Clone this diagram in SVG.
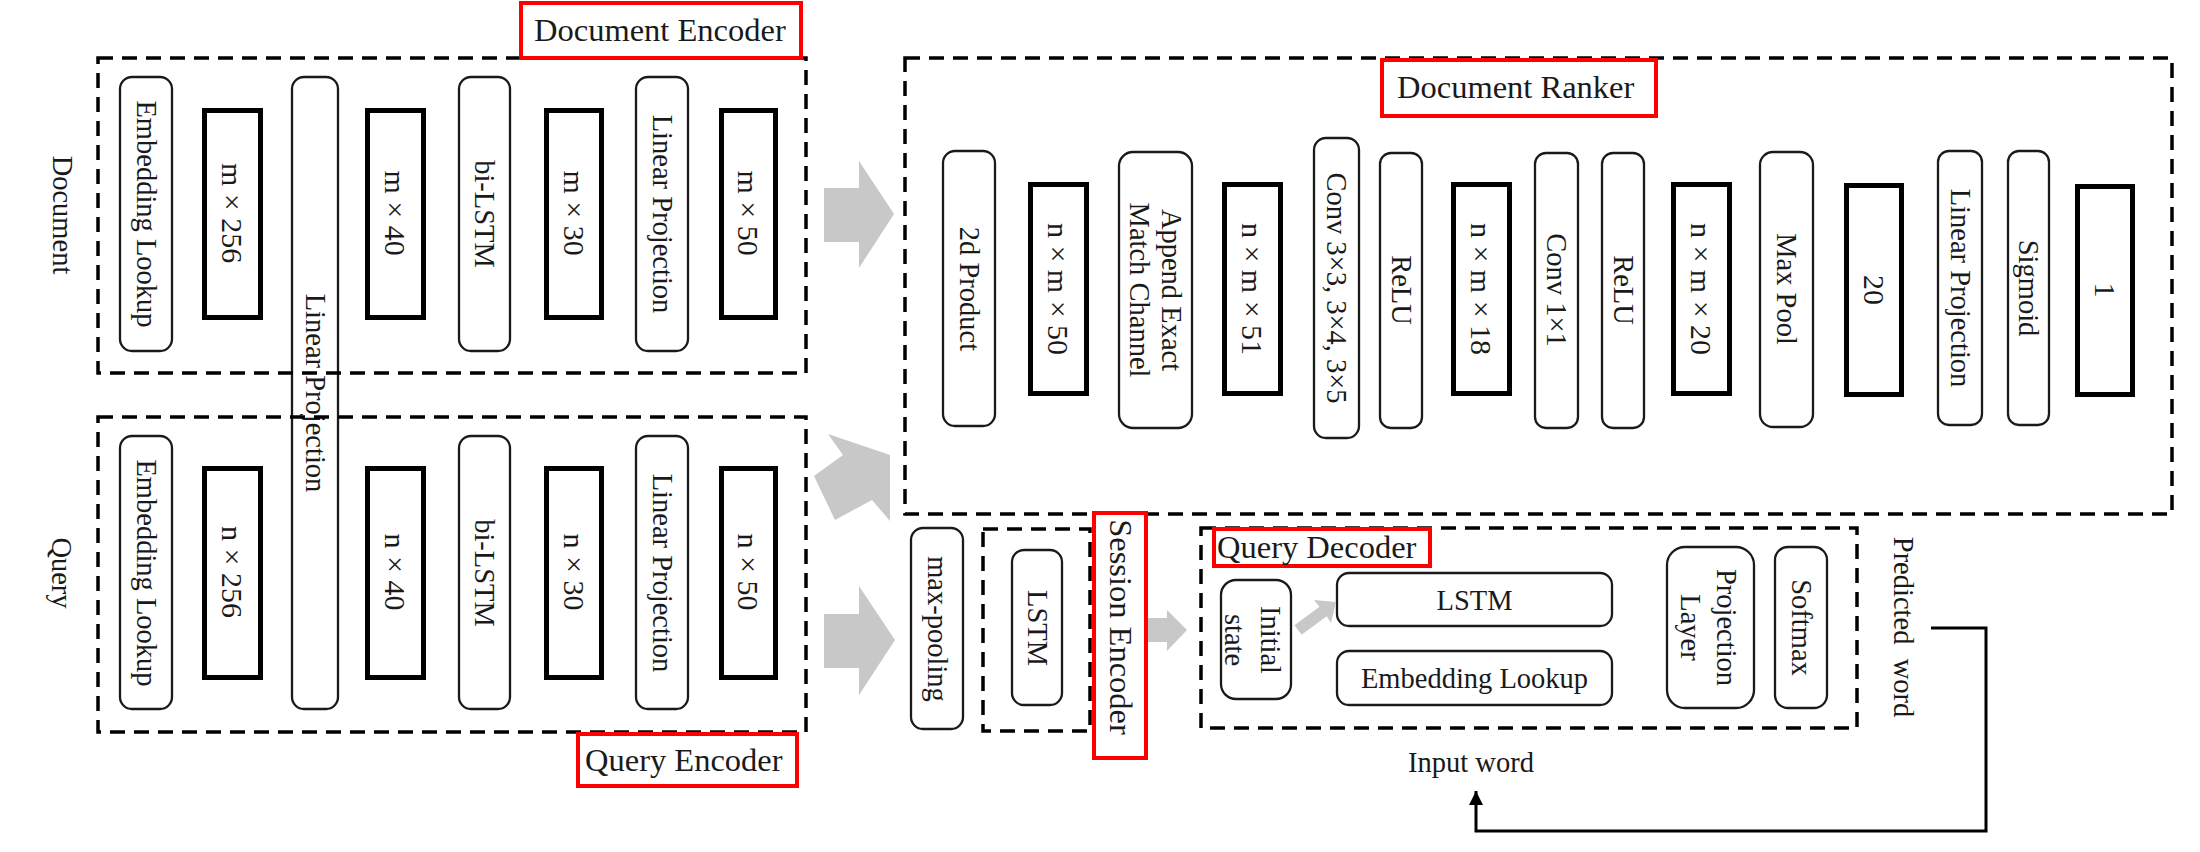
<svg xmlns="http://www.w3.org/2000/svg" width="2200" height="852" viewBox="0 0 2200 852">
<defs>
<style>
text{font-family:"Liberation Serif","Times New Roman",serif;fill:#1a1a1a;}
.t{font-size:28.5px;}
.v{font-size:28.5px;text-anchor:middle;dominant-baseline:central;}
.d{font-size:30px;text-anchor:middle;dominant-baseline:central;}
.lbl{font-size:32.5px;}
.rb{fill:#fff;stroke:#1a1a1a;stroke-width:2.3;}
.tb{fill:#fff;stroke:#000;stroke-width:5;}
.dash{fill:none;stroke:#000;stroke-width:3.5;stroke-dasharray:15 9;}
.red{fill:#fff;stroke:#ff0000;stroke-width:4;}
.garrow{fill:#c8c8c8;stroke:none;}
.line{fill:none;stroke:#000;stroke-width:3;}
</style>
<marker id="ah" markerUnits="userSpaceOnUse" markerWidth="15" markerHeight="15" refX="14" refY="7" orient="auto">
<path d="M0,0 L14,7 L0,14 z" fill="#000"/>
</marker>
</defs>
<rect width="2200" height="852" fill="#fff"/>

<!-- side labels -->
<g id="label-document"><text class="v" transform="translate(62,215) rotate(90)">Document</text></g>
<g id="label-query"><text class="v" transform="translate(61,573) rotate(90)">Query</text></g>

<!-- Document encoder nodes -->
<g id="de-embedding"><rect class="rb" x="120" y="77" width="52" height="274" rx="12"/><text class="v" transform="translate(146,214) rotate(90)">Embedding Lookup</text></g>
<g id="de-m256"><rect class="tb" x="204.5" y="110.5" width="56" height="207"/><text class="d" transform="translate(232.5,213) rotate(90)">m × 256</text></g>
<g id="shared-linear-projection"><rect class="rb" x="292" y="77" width="46" height="632" rx="12"/><text class="v" transform="translate(315,393) rotate(90)">Linear Projection</text></g>
<g id="de-m40"><rect class="tb" x="367.5" y="110.5" width="56" height="207"/><text class="d" transform="translate(395.5,213) rotate(90)">m × 40</text></g>
<g id="de-bilstm"><rect class="rb" x="459" y="77" width="51" height="274" rx="12"/><text class="v" transform="translate(484.5,214) rotate(90)">bi-LSTM</text></g>
<g id="de-m30"><rect class="tb" x="546.5" y="110.5" width="55" height="207"/><text class="d" transform="translate(574,213) rotate(90)">m × 30</text></g>
<g id="de-linproj"><rect class="rb" x="636" y="77" width="52" height="274" rx="12"/><text class="v" transform="translate(662,214) rotate(90)">Linear Projection</text></g>
<g id="de-m50"><rect class="tb" x="721.5" y="110.5" width="54" height="207"/><text class="d" transform="translate(748.5,213) rotate(90)">m × 50</text></g>

<!-- Query encoder nodes -->
<g id="qe-embedding"><rect class="rb" x="120" y="436" width="52" height="273" rx="12"/><text class="v" transform="translate(146,573) rotate(90)">Embedding Lookup</text></g>
<g id="qe-n256"><rect class="tb" x="204.5" y="468.5" width="56" height="209"/><text class="d" transform="translate(232.5,572) rotate(90)">n × 256</text></g>
<g id="qe-n40"><rect class="tb" x="367.5" y="468.5" width="56" height="209"/><text class="d" transform="translate(395.5,572) rotate(90)">n × 40</text></g>
<g id="qe-bilstm"><rect class="rb" x="459" y="436" width="51" height="273" rx="12"/><text class="v" transform="translate(484.5,573) rotate(90)">bi-LSTM</text></g>
<g id="qe-n30"><rect class="tb" x="546.5" y="468.5" width="55" height="209"/><text class="d" transform="translate(574,572) rotate(90)">n × 30</text></g>
<g id="qe-linproj"><rect class="rb" x="636" y="436" width="52" height="273" rx="12"/><text class="v" transform="translate(662,573) rotate(90)">Linear Projection</text></g>
<g id="qe-n50"><rect class="tb" x="721.5" y="468.5" width="54" height="209"/><text class="d" transform="translate(748.5,572) rotate(90)">n × 50</text></g>

<!-- Document ranker nodes -->
<g id="dr-2dproduct"><rect class="rb" x="943" y="151" width="52" height="275" rx="12"/><text class="v" transform="translate(969,289) rotate(90)">2d Product</text></g>
<g id="dr-nm50"><rect class="tb" x="1030.5" y="184.5" width="56" height="209"/><text class="d" transform="translate(1058.5,289) rotate(90)">n × m × 50</text></g>
<g id="dr-append"><rect class="rb" x="1119" y="152" width="73" height="276" rx="14"/><text class="v" transform="translate(1155.5,290) rotate(90)"><tspan x="0" y="-16">Append Exact</tspan><tspan x="0" y="16">Match Channel</tspan></text></g>
<g id="dr-nm51"><rect class="tb" x="1224.5" y="184.5" width="56" height="209"/><text class="d" transform="translate(1252.5,289) rotate(90)">n × m × 51</text></g>
<g id="dr-conv3"><rect class="rb" x="1314" y="138" width="45" height="300" rx="12"/><text class="v" transform="translate(1336.5,288) rotate(90)">Conv 3×3, 3×4, 3×5</text></g>
<g id="dr-relu1"><rect class="rb" x="1380" y="153" width="42" height="275" rx="11"/><text class="v" transform="translate(1401,290) rotate(90)">ReLU</text></g>
<g id="dr-nm18"><rect class="tb" x="1453.5" y="184.5" width="56" height="209"/><text class="d" transform="translate(1481.5,289) rotate(90)">n × m × 18</text></g>
<g id="dr-conv1"><rect class="rb" x="1535" y="153" width="43" height="275" rx="11"/><text class="v" transform="translate(1556.5,290) rotate(90)">Conv 1×1</text></g>
<g id="dr-relu2"><rect class="rb" x="1602" y="153" width="42" height="275" rx="11"/><text class="v" transform="translate(1623,290) rotate(90)">ReLU</text></g>
<g id="dr-nm20"><rect class="tb" x="1673.5" y="184.5" width="56" height="209"/><text class="d" transform="translate(1701.5,289) rotate(90)">n × m × 20</text></g>
<g id="dr-maxpool"><rect class="rb" x="1760" y="152" width="53" height="275" rx="13"/><text class="v" transform="translate(1786.5,289) rotate(90)">Max Pool</text></g>
<g id="dr-20"><rect class="tb" x="1846.5" y="185.5" width="55" height="209"/><text class="d" transform="translate(1874,290) rotate(90)">20</text></g>
<g id="dr-linproj"><rect class="rb" x="1938" y="151" width="44" height="274" rx="11"/><text class="v" transform="translate(1960,288) rotate(90)">Linear Projection</text></g>
<g id="dr-sigmoid"><rect class="rb" x="2008" y="151" width="41" height="274" rx="11"/><text class="v" transform="translate(2028.5,288) rotate(90)">Sigmoid</text></g>
<g id="dr-1"><rect class="tb" x="2077.5" y="186.5" width="55" height="208"/><text class="d" transform="translate(2105,290) rotate(90)">1</text></g>

<!-- Bottom row nodes -->
<g id="max-pooling"><rect class="rb" x="911" y="528" width="52" height="201" rx="12"/><text class="v" transform="translate(937,629) rotate(90)">max-pooling</text></g>
<g id="se-lstm"><rect class="rb" x="1012" y="550" width="50" height="155" rx="12"/><text class="v" transform="translate(1037,628) rotate(90)">LSTM</text></g>
<g id="qd-initial"><rect class="rb" x="1221" y="580" width="70" height="119" rx="15"/><text class="v" transform="translate(1253,640) rotate(90)"><tspan x="0" y="-18">Initial</tspan><tspan x="0" y="18">state</tspan></text></g>
<g id="qd-lstm"><rect class="rb" x="1337" y="573" width="275" height="53" rx="12"/><text class="t" x="1474.5" y="600" text-anchor="middle" dominant-baseline="central">LSTM</text></g>
<g id="qd-embedding"><rect class="rb" x="1337" y="651" width="275" height="54" rx="12"/><text class="t" x="1474.5" y="678" text-anchor="middle" dominant-baseline="central">Embedding Lookup</text></g>
<g id="qd-projection"><rect class="rb" x="1667" y="547" width="87" height="161" rx="18"/><text class="v" transform="translate(1709,627.5) rotate(90)"><tspan x="0" y="-18">Projection</tspan><tspan x="0" y="18">Layer</tspan></text></g>
<g id="qd-softmax"><rect class="rb" x="1775" y="547" width="52" height="161" rx="13"/><text class="v" transform="translate(1801,627.5) rotate(90)">Softmax</text></g>
<g id="predicted-word"><text class="v" transform="translate(1903,627) rotate(90)" xml:space="preserve">Predicted  word</text></g>
<g id="input-word"><text class="t" x="1471" y="772" text-anchor="middle">Input word</text></g>

<!-- Group frames -->
<g id="document-encoder">
<rect class="dash" x="98" y="58" width="708" height="315"/>
<rect class="red" x="521" y="3" width="280" height="55"/>
<text class="lbl" x="534" y="41">Document Encoder</text>
</g>
<g id="query-encoder">
<rect class="dash" x="98" y="417" width="708" height="315"/>
<rect class="red" x="578" y="734" width="219" height="52"/>
<text class="lbl" x="585" y="771">Query Encoder</text>
</g>
<g id="document-ranker">
<rect class="dash" x="905" y="58" width="1267" height="456"/>
<rect class="red" x="1382" y="60" width="274" height="56"/>
<text class="lbl" x="1397" y="98">Document Ranker</text>
</g>
<g id="session-encoder">
<rect class="dash" x="983" y="529" width="107" height="202"/>
<rect class="red" x="1094" y="513" width="52" height="245"/>
<text class="lbl" text-anchor="middle" dominant-baseline="central" transform="translate(1121,627) rotate(90)">Session Encoder</text>
</g>
<g id="query-decoder">
<rect class="dash" x="1201" y="528" width="656" height="200"/>
<rect class="red" x="1214" y="529" width="216" height="37"/>
<text class="lbl" x="1217" y="558">Query Decoder</text>
</g>

<!-- Connectors -->
<g id="connectors">
<polygon class="garrow" points="824,188 859,188 859,161 894,214 859,268 859,242 824,242"/>
<polygon class="garrow" points="828,434 890,455 890,521 872,500 835,520 814,476 843,455"/>
<polygon class="garrow" points="824,614 859,614 859,586 895,640 859,695 859,668 824,668"/>
<polygon class="garrow" points="1148,618 1167,618 1167,610 1187,630 1167,651 1167,642 1148,642"/>
<polygon class="garrow" points="1294.4,625.2 1319.5,606.7 1314,600 1336,602 1331,623 1326.7,616.3 1301.6,634.8"/>
<polyline class="line" points="1931,628 1986,628 1986,831 1476,831 1476,791" marker-end="url(#ah)"/>
</g>
</svg>
